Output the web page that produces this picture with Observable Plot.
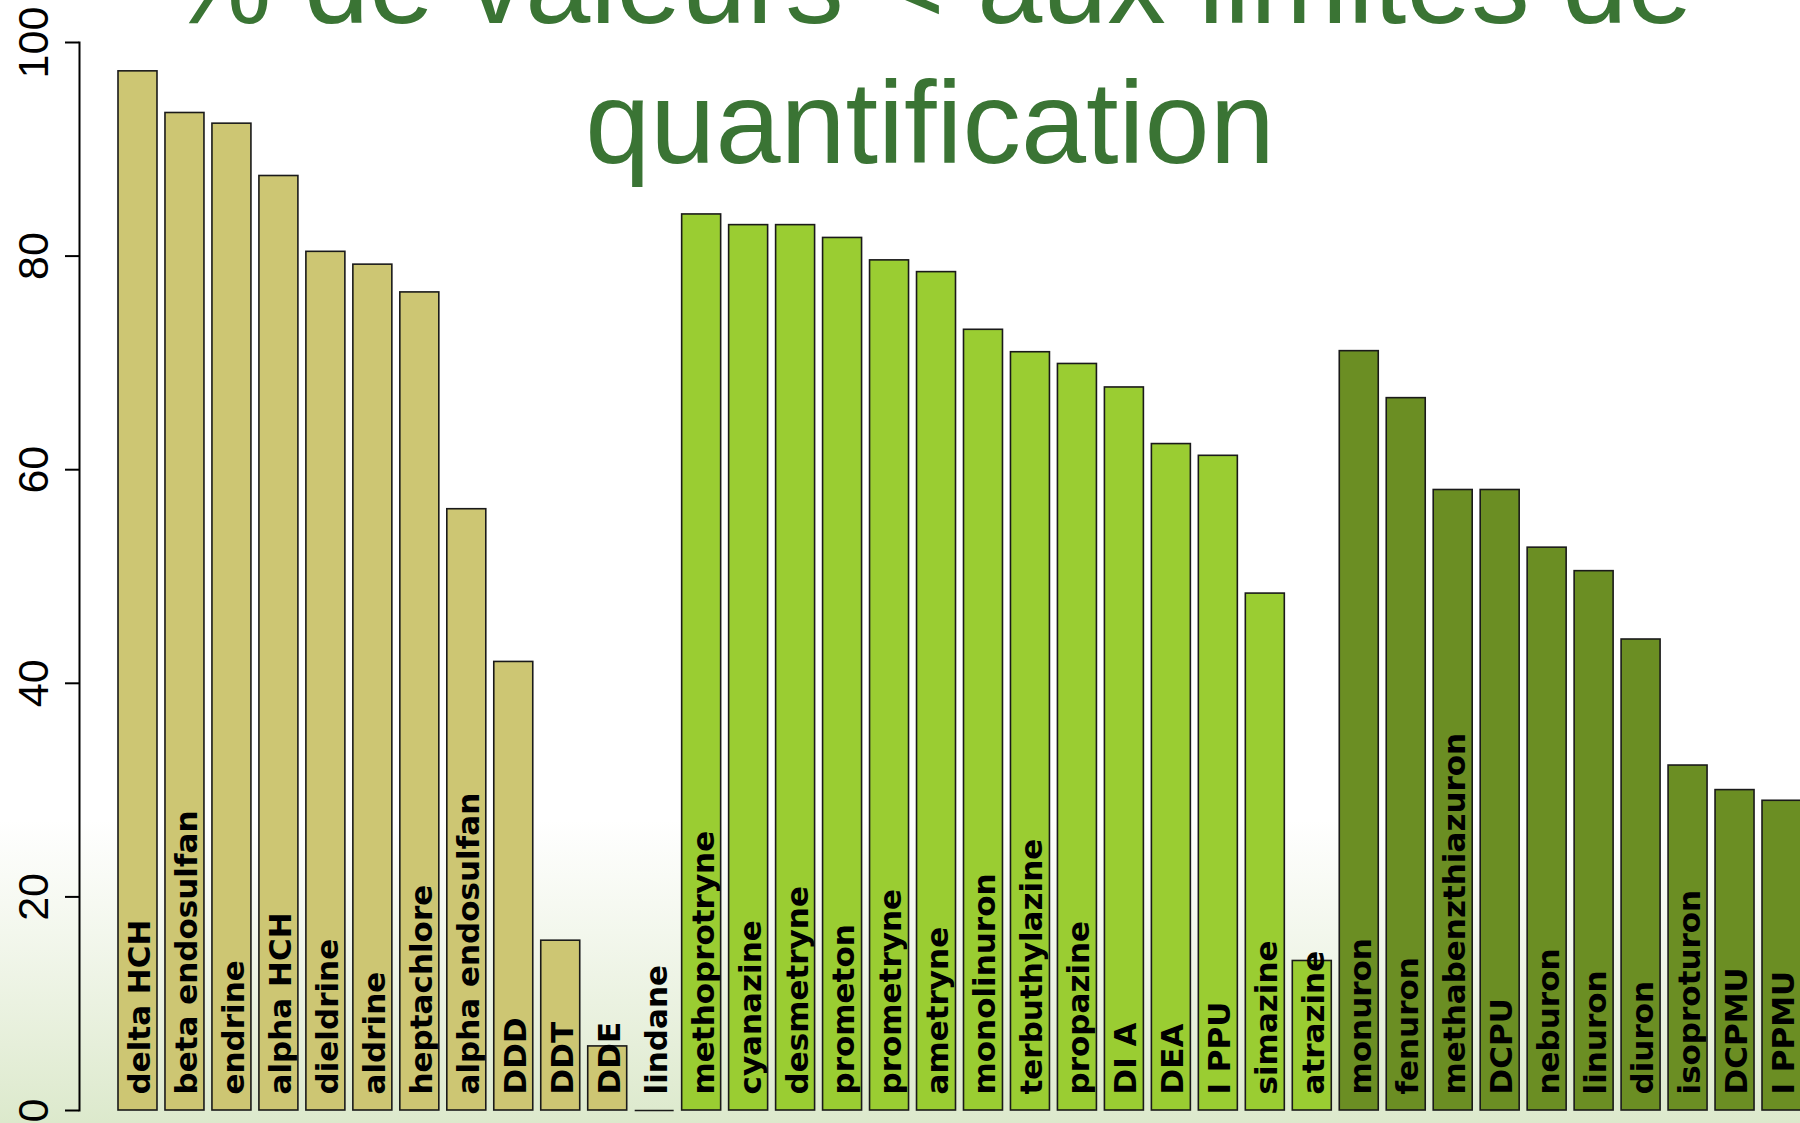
<!DOCTYPE html>
<html><head><meta charset="utf-8">
<script src="https://cdn.jsdelivr.net/npm/d3@7"></script>
<script src="https://cdn.jsdelivr.net/npm/@observablehq/plot@0.6"></script>
<style>
html,body{margin:0;padding:0;width:1800px;height:1123px;overflow:hidden;}
body{background:linear-gradient(to bottom,#ffffff 0%,#ffffff 73%,#f3f7ed 83%,#e6efda 93%,#dce9cc 100%);position:relative;font-family:"Liberation Sans",Arial,sans-serif;}
#chart{position:absolute;left:0;top:0;}
#title{position:absolute;left:130px;width:1600px;top:-87px;text-align:center;color:#3a7434;font-size:117px;line-height:140px;font-family:"Liberation Sans",Arial,sans-serif;white-space:nowrap;}
</style></head><body>
<div id="chart"></div>
<div id="title">% de valeurs &lt; aux limites de<br>quantification</div>
<script>
const names1 = ["delta HCH","beta endosulfan","endrine","alpha HCH","dieldrine","aldrine","heptachlore","alpha endosulfan","DDD","DDT","DDE","lindane"];
const values1 = [97.3, 93.4, 92.4, 87.5, 80.4, 79.2, 76.6, 56.3, 42.0, 15.9, 6.0, 0];
const names2 = ["methoprotryne","cyanazine","desmetryne","prometon","prometryne","ametryne","monolinuron","terbuthylazine","propazine","DI A","DEA","I PPU","simazine","atrazine"];
const values2 = [83.9, 82.9, 82.9, 81.7, 79.6, 78.5, 73.1, 71.0, 69.9, 67.7, 62.4, 61.3, 48.4, 14.0];
const names3 = ["monuron","fenuron","methabenzthiazuron","DCPU","neburon","linuron","diuron","isoproturon","DCPMU","I PPMU"];
const values3 = [71.1, 66.7, 58.1, 58.1, 52.7, 50.5, 44.1, 32.3, 30.0, 29.0];
const groupNames = ["g1","g2","g3"];
const groupColors = ["#cdc673","#9acd32","#6b8e23"];
const yTicks = [0, 20, 40, 60, 80, 100];

const data = [];
[[names1, values1], [names2, values2], [names3, values3]].forEach(([n, v], gi) => {
  n.forEach((name, i) => data.push({name, value: v[i], group: groupNames[gi]}));
});
const allNames = data.map(d => d.name);
const zeros = data.filter(d => d.value === 0);

const chart = Plot.plot({
  width: 1800, height: 1123,
  marginLeft: 79, marginRight: 0, marginTop: 42, marginBottom: 13,
  style: {background: "transparent", color: "black", overflow: "visible"},
  x: {type: "band", domain: allNames, range: [118, 1801], paddingInner: 0.17, paddingOuter: 0, axis: null},
  y: {domain: [0, 100], axis: null},
  color: {domain: groupNames, range: groupColors},
  marks: [
    Plot.barY(data, {x: "name", y: "value", fill: "group", stroke: "#1a1a1a", strokeWidth: 1.6}),
    Plot.tickY(zeros, {x: "name", y: "value", stroke: "#1a1a1a", strokeWidth: 1.6}),
    Plot.text(data, {x: "name", y: 0, text: "name", rotate: -90, textAnchor: "start", lineAnchor: "middle", dy: -16, dx: 2, fontSize: 31, fontWeight: "bold", fontFamily: "DejaVu Sans", fill: "black"}),
    Plot.axisY({ticks: yTicks, tickSize: 14, tickFormat: () => "", label: null, strokeWidth: 2, stroke: "black"}),
    Plot.text(yTicks, {y: d => d, text: d => String(d), frameAnchor: "left", textAnchor: "middle", lineAnchor: "middle", dx: -45, rotate: -90, fontSize: 43, fontFamily: "Liberation Sans", fill: "black"}),
    Plot.frame({anchor: "left", strokeWidth: 2, stroke: "black"})
  ]
});
document.getElementById("chart").appendChild(chart);
</script>
</body></html>
